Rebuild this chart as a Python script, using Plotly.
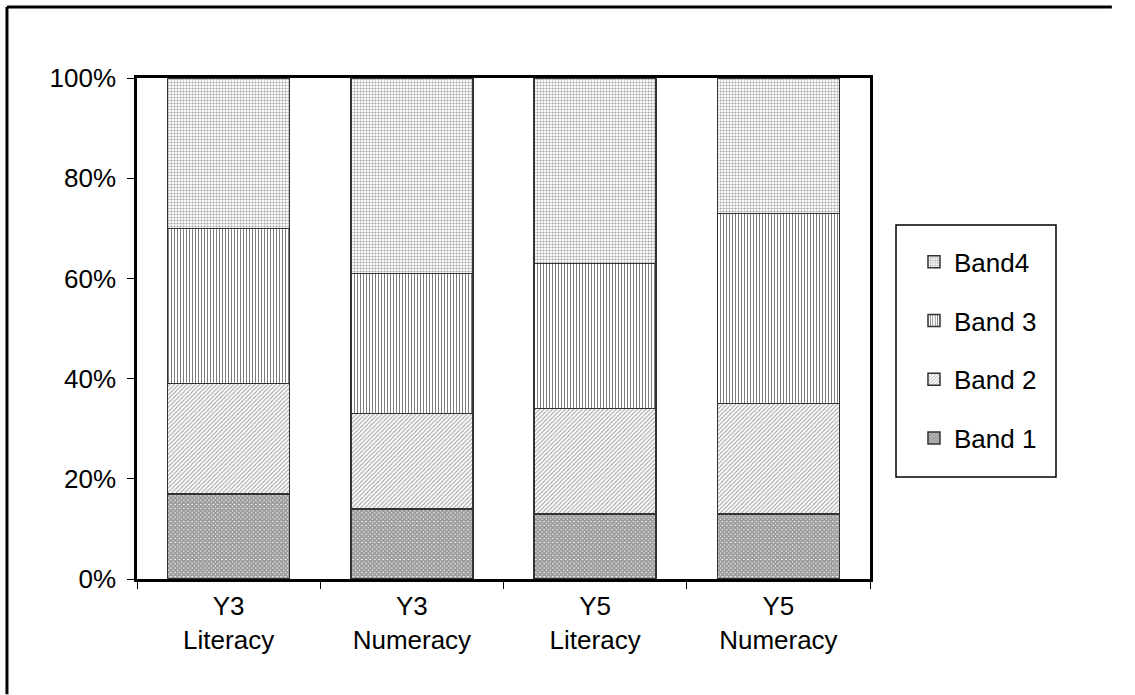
import plotly.graph_objects as go

# Assessment results: share of students in each band (percent)
categories = ["Y3<br>Literacy", "Y3<br>Numeracy", "Y5<br>Literacy", "Y5<br>Numeracy"]
band1 = [17, 14, 13, 13]
band2 = [22, 19, 21, 22]
band3 = [31, 28, 29, 38]
band4 = [30, 39, 37, 27]
band_names = ["Band 1", "Band 2", "Band 3", "Band4"]
y_ticks = [0, 20, 40, 60, 80, 100]
y_tick_labels = [f"{v}%" for v in y_ticks]

patterns = [
    dict(shape="x", size=3, solidity=0.85, fgcolor="#333", bgcolor="white"),
    dict(shape="/", size=3, solidity=0.35, fgcolor="#444", bgcolor="white"),
    dict(shape="|", size=3, solidity=0.35, fgcolor="black", bgcolor="white"),
    dict(shape=".", size=3, solidity=0.4, fgcolor="#444", bgcolor="white"),
]

fig = go.Figure()
n = len(band_names)
for i, (name, vals, pat) in enumerate(zip(band_names, [band1, band2, band3, band4], patterns)):
    fig.add_trace(go.Bar(
        x=categories, y=vals, name=name, legendgroup=name,
        legendrank=n - i,  # top band listed first
        marker=dict(color="white", pattern=pat, line=dict(color="#333", width=1.5)),
        hoverinfo="x+y+name",
    ))

FONT = "Liberation Sans, Arial, sans-serif"
fig.update_layout(
    width=1135, height=695,
    margin=dict(l=137, r=265, t=78, b=116),
    paper_bgcolor="white", plot_bgcolor="white",
    barmode="stack", bargap=0.333,
    font=dict(family=FONT, size=26, color="black"),
    showlegend=True,
    legend=dict(
        x=1.06, y=0.68, xanchor="left", yanchor="top",
        traceorder="grouped", tracegroupgap=22,
        borderwidth=0, bgcolor="rgba(0,0,0,0)",
        font=dict(family=FONT, size=26, color="black"),
    ),
    xaxis=dict(
        showline=True, linecolor="black", linewidth=2.5, mirror=True,
        ticks="outside", tickson="boundaries", ticklen=7, tickcolor="black",
        showgrid=False, tickfont=dict(size=26), ticklabelstandoff=2,
    ),
    yaxis=dict(
        range=[0, 100], tickvals=y_ticks, ticktext=y_tick_labels,
        showline=True, linecolor="black", linewidth=2.5, mirror=True,
        ticks="outside", ticklen=7, tickcolor="black",
        showgrid=False, zeroline=False, tickfont=dict(size=26),
        ticklabelstandoff=6,
    ),
    shapes=[
        # outer chart frame (top and left edges)
        dict(type="line", xref="paper", yref="paper", x0=-0.1774, x1=1.33,
             y0=1.1417, y1=1.1417, line=dict(color="black", width=3)),
        dict(type="line", xref="paper", yref="paper", x0=-0.1774, x1=-0.1774,
             y0=1.1417, y1=-0.23, line=dict(color="black", width=3)),
        # legend box
        dict(type="rect", xref="paper", yref="paper",
             x0=(896 - 137) / 733, x1=(1056 - 137) / 733,
             y0=(579 - 477) / 501, y1=(579 - 225) / 501,
             line=dict(color="black", width=1.5)),
    ],
)

fig.write_html("out.html")
